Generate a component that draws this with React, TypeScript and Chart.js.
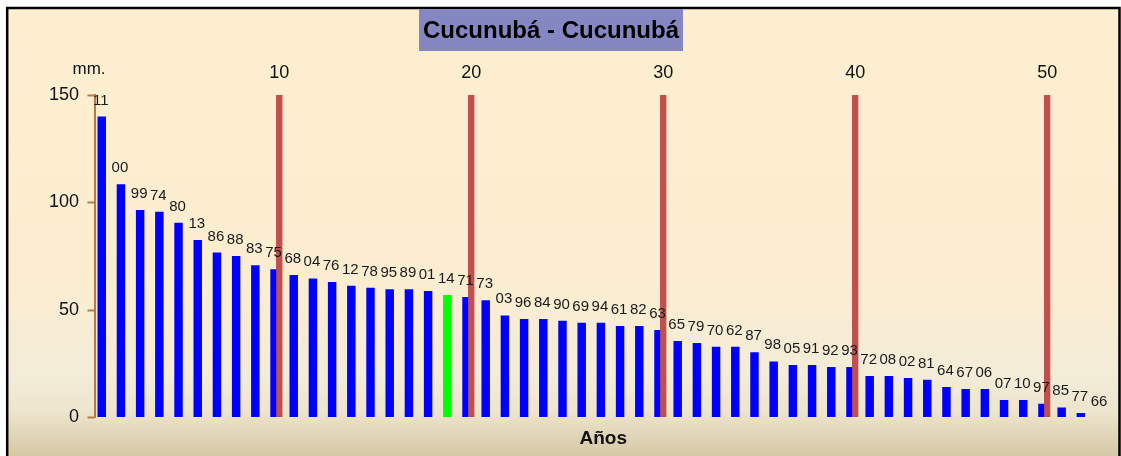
import React, { useEffect, useRef } from "react";
import { Chart, registerables } from "chart.js";

Chart.register(...registerables);

const titleText = "Cucunubá - Cucunubá";
const yUnit = "mm.";
const xTitle = "Años";

const yearLabels = [
  "11", "00", "99", "74", "80", "13", "86", "88", "83", "75",
  "68", "04", "76", "12", "78", "95", "89", "01", "14", "71",
  "73", "03", "96", "84", "90", "69", "94", "61", "82", "63",
  "65", "79", "70", "62", "87", "98", "05", "91", "92", "93",
  "72", "08", "02", "81", "64", "67", "06", "07", "10", "97",
  "85", "77", "66",
];

const rainfall = [
  140.0, 108.5, 96.5, 95.7, 90.6, 82.6, 76.7, 75.1, 70.8, 68.9,
  66.3, 64.7, 63.0, 61.3, 60.4, 59.6, 59.6, 58.8, 57.0, 56.0,
  54.5, 47.5, 45.8, 45.8, 45.0, 44.1, 44.1, 42.6, 42.6, 40.7,
  35.6, 34.7, 32.9, 32.9, 30.4, 26.1, 24.4, 24.4, 23.5, 23.5,
  19.3, 19.3, 18.4, 17.6, 14.2, 13.3, 13.3, 8.1, 8.1, 6.4,
  4.7, 2.1, 0,
];

const highlightYear = "14";
const markerPositions = [10, 20, 30, 40, 50];
const yMin = 0;
const yMax = 150;
const yStep = 50;

const FONT = "'Liberation Sans', Arial, sans-serif";
const BLUE = "#0000FF";
const GREEN = "#00FF00";
const RED = "#C0504D";
const AXIS = "#B27A46";

export default function App() {
  const canvasRef = useRef<HTMLCanvasElement | null>(null);

  useEffect(() => {
    const canvas = canvasRef.current;
    if (!canvas) return;

    const markerData = yearLabels.map((_, i) =>
      markerPositions.includes(i + 1) ? yMax : null
    );
    const barColors = yearLabels.map((l) => (l === highlightYear ? GREEN : BLUE));

    const decor = {
      id: "decor",
      beforeDraw(chart: any) {
        const ctx = chart.ctx as CanvasRenderingContext2D;
        const W = chart.width;
        const H = chart.height;
        ctx.save();
        ctx.fillStyle = "#FFFFFF";
        ctx.fillRect(0, 0, W, H);
        const g = ctx.createLinearGradient(0, 8, 0, H);
        g.addColorStop(0, "#FEEFD1");
        g.addColorStop(0.6, "#FCEDD0");
        g.addColorStop(0.82, "#F3ECD8");
        g.addColorStop(0.9, "#EDE5CD");
        g.addColorStop(1, "#D5C8A6");
        ctx.fillStyle = g;
        ctx.fillRect(7, 8, W - 9, H);
        ctx.strokeStyle = "#000000";
        ctx.lineWidth = 2.5;
        ctx.strokeRect(7.2, 8, W - 8.7, H + 20);
        // title box
        ctx.fillStyle = "#8587C3";
        ctx.fillRect(419, 9, 264, 42);
        ctx.fillStyle = "#000000";
        ctx.font = `bold 24px ${FONT}`;
        ctx.textAlign = "center";
        ctx.textBaseline = "middle";
        ctx.fillText(titleText, 551, 31);
        ctx.restore();
      },
      afterDatasetsDraw(chart: any) {
        const ctx = chart.ctx as CanvasRenderingContext2D;
        const area = chart.chartArea;
        const redMeta = chart.getDatasetMeta(1);
        ctx.save();
        // redraw markers on top of the blue bars
        redMeta.data.forEach((el: any, i: number) => {
          if (markerData[i] !== null) el.draw(ctx);
        });
        // value labels (year codes)
        const blueMeta = chart.getDatasetMeta(0);
        ctx.fillStyle = "#1A1A1A";
        ctx.font = `15px ${FONT}`;
        ctx.textAlign = "center";
        ctx.textBaseline = "alphabetic";
        blueMeta.data.forEach((el: any, i: number) => {
          ctx.fillText(yearLabels[i], el.x - 1, el.y - 12);
        });
        // marker numbers
        ctx.font = `18px ${FONT}`;
        ctx.fillStyle = "#111111";
        redMeta.data.forEach((el: any, i: number) => {
          if (markerData[i] !== null) ctx.fillText(String(i + 1), el.x, 78);
        });
        // unit label
        ctx.font = `17px ${FONT}`;
        ctx.fillText(yUnit, 89, 74);
        // x title
        ctx.font = `bold 19px ${FONT}`;
        ctx.fillText(xTitle, (area.left + area.right) / 2, 444);
        ctx.restore();
      },
    };

    const chart = new Chart(canvas, {
      type: "bar",
      data: {
        labels: yearLabels,
        datasets: [
          {
            data: rainfall,
            backgroundColor: barColors,
            borderWidth: 0,
            barPercentage: 1.8,
            categoryPercentage: 0.49,
          },
          {
            data: markerData,
            backgroundColor: RED,
            borderWidth: 0,
            barPercentage: 1.28,
            categoryPercentage: 0.49,
          },
        ],
      },
      options: {
        animation: false,
        responsive: true,
        maintainAspectRatio: false,
        layout: { padding: { left: 34.5, top: 95, right: 9, bottom: 38.5 } },
        plugins: {
          legend: { display: false },
          tooltip: { enabled: false },
          title: { display: false },
        },
        scales: {
          x: {
            display: false,
            offset: true,
          },
          y: {
            min: yMin,
            max: yMax,
            ticks: {
              stepSize: yStep,
              color: "#111111",
              font: { size: 18, family: FONT },
              padding: 8.5,
            },
            grid: {
              drawOnChartArea: false,
              drawTicks: true,
              tickLength: 7,
              tickColor: AXIS,
              tickWidth: 2,
            },
            border: { color: AXIS, width: 2 },
            afterFit: (s: any) => {
              s.width = 60;
            },
          },
        },
      },
      plugins: [decor],
    });

    return () => chart.destroy();
  }, []);

  return (
    <div style={{ position: "absolute", left: 0, top: 0, width: 1121, height: 456 }}>
      <canvas ref={canvasRef} />
    </div>
  );
}
